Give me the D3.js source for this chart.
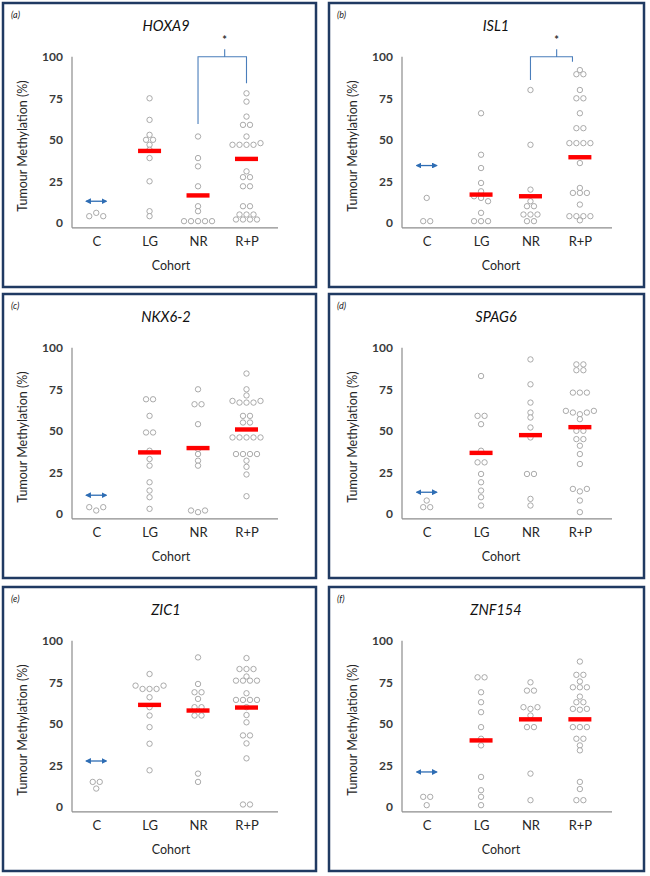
<!DOCTYPE html>
<html><head><meta charset="utf-8">
<script src="https://cdn.jsdelivr.net/npm/d3@7"></script>
<style>
html,body{margin:0;padding:0;background:#fff;}
svg{display:block;}
text{font-family:Lato,"Open Sans",sans-serif;}
</style></head>
<body>
<svg id="chart" width="650" height="876"></svg>
<script>
// ---------- DATA ----------
const panelLabels = ["(a)","(b)","(c)","(d)","(e)","(f)"];
const genes = ["HOXA9","ISL1","NKX6-2","SPAG6","ZIC1","ZNF154"];
const cohorts = ["C","LG","NR","R+P"];
const cohortX = [0.5, 1.6, 2.6, 3.6];
const yTicks = [0, 25, 50, 75, 100];

// methylation values per cohort [C, LG, NR, R+P]
const HOXA9 = [
  [4, 6, 4],
  [75, 62, 53, 50, 50, 47, 44, 39, 25, 7, 4],
  [52, 39, 34, 22, 10, 7, 1, 1, 1, 1, 1],
  [78, 73, 64, 59, 59, 52, 47, 47, 47, 47, 48, 31, 27.5, 27.5, 22, 22, 10, 10, 5, 5, 5, 2, 2, 2, 2]
];
const ISL1 = [
  [15, 1, 1],
  [66, 41, 33, 24, 19, 16, 15, 13, 6, 1, 1, 1],
  [80, 47, 20, 13, 10, 10, 5, 5, 5, 1, 1],
  [92, 89.5, 89.5, 80, 75, 75, 66, 57, 57, 48, 48, 48, 48, 36, 21, 18, 18, 18, 11, 4, 4, 4, 4, 1.5]
];
const NKX6_2 = [
  [4, 2, 4],
  [69, 69, 59, 49, 49, 38, 33, 29, 19, 14, 10, 3],
  [75, 66, 66, 54, 39, 36, 32, 29, 2, 1, 2],
  [84.5, 75, 71.3, 68, 67, 67, 67, 68, 59, 59, 55, 55, 46, 46, 46, 46, 46, 36, 36, 36, 36, 32, 28.3, 23.7, 10.6]
];
const SPAG6 = [
  [4, 8, 4],
  [83, 59, 59, 54, 38, 31, 31, 24, 19, 14, 10, 5],
  [93, 78, 67, 61, 58, 52, 46, 24, 24, 9, 5],
  [90, 90, 86.5, 86.5, 73, 73, 73, 62, 61, 60, 61, 62, 57, 50, 50, 45, 45, 41, 36, 30, 15, 13.5, 15, 8, 1]
];
const ZIC1 = [
  [15, 11, 15],
  [80, 73, 71, 71, 71, 73, 66, 60, 55, 48, 38, 22],
  [90, 74, 69, 69, 65, 60, 60, 55, 55, 20, 15],
  [89.6, 83, 83, 83, 78.5, 76, 76, 76, 76, 68.4, 64.4, 64.4, 64.4, 64.4, 60, 55.3, 50.9, 43, 43, 38.2, 29.2, 1.4, 1.4]
];
const ZNF154 = [
  [6, 1, 6],
  [78, 78, 69, 63, 57, 48, 41, 37, 18, 10, 6, 1],
  [75, 70, 70, 60, 59, 60, 55, 48, 48, 20, 4],
  [87.5, 79.5, 79.5, 75.5, 72, 72, 72, 66.4, 63, 63, 59, 58.5, 59, 48, 48, 48, 41, 41, 37, 34, 15, 10.7, 4, 4]
];
const panelData = [HOXA9, ISL1, NKX6_2, SPAG6, ZIC1, ZNF154];

// red bars (LG, NR, R+P)
const meanBars = [
  [43.3, 16.5, 38.5],
  [17, 16, 39.5],
  [37, 39.6, 50.8],
  [36.7, 47.4, 52.2],
  [61.4, 58, 59.8],
  [40, 52.7, 52.7]
];
// blue double arrow level at C
const arrowLevels = [13, 34.5, 11.2, 13, 27.6, 21];
// significance brackets
const bracketPanel = [0, 1];
const bracketLeftX = [2.6, 2.6];
const bracketRightX = [3.6, 3.45];
const bracketMidX = [3.15, 3.13];
const bracketLeftLow = [59.5, 86];
const bracketRightLow = [84, 97];

// ---------- LAYOUT ----------
const svg = d3.select("#chart");
const colLeft = [3, 329], colWidth = [313, 315];
const rowTop = [3, 294, 587], panelH = 284;
const axisX0 = [69, 73], axisX1 = [275, 283];
const spacing = 7, dotR = 2.7;

const defs = svg.append("defs");
defs.append("marker").attr("id","ah").attr("viewBox","0 0 10 10")
  .attr("refX",8).attr("refY",5).attr("markerWidth",4.5).attr("markerHeight",4.5)
  .attr("orient","auto-start-reverse")
  .append("path").attr("d","M0,0L10,5L0,10z").attr("fill","#2e6db4");

function layoutRows(vals) {
  const idx = vals.map((v,i)=>i).sort((a,b)=>vals[a]-vals[b] || a-b);
  const rows = [];
  let cur = [];
  idx.forEach(i=>{
    if (cur.length && vals[i] - vals[cur[cur.length-1]] > 2.1) { rows.push(cur); cur = []; }
    cur.push(i);
  });
  if (cur.length) rows.push(cur);
  const off = new Array(vals.length).fill(0);
  rows.forEach(r=>{
    r.sort((a,b)=>a-b);
    r.forEach((i,j)=>{ off[i] = (j - (r.length-1)/2); });
  });
  return off;
}

panelData.forEach((data, p) => {
  const col = p % 2, row = Math.floor(p / 2);
  const L = colLeft[col], T = rowTop[row];
  const g = svg.append("g");
  const x = d3.scaleLinear().domain([0, 4.25]).range([L + axisX0[col], L + axisX1[col]]);
  const y = d3.scaleLinear().domain([-3, 100]).range([T + 224.8, T + 53.8]);

  g.append("rect").attr("x", L).attr("y", T).attr("width", colWidth[col]).attr("height", panelH)
    .attr("fill","none").attr("stroke","#203a62").attr("stroke-width",2.5);

  g.append("text").attr("x", L + 8).attr("y", T + 15).attr("font-size", 9).attr("font-style","italic")
    .attr("fill","#222").text(panelLabels[p]);
  g.append("text").attr("x", x.range()[0] + 94).attr("y", T + 28).attr("text-anchor","middle")
    .attr("font-size", 14.5).attr("font-style","italic").attr("fill","#111").text(genes[p]);

  const yAxis = d3.axisLeft(y).tickValues(yTicks).tickSize(0).tickPadding(9);
  const ya = g.append("g").attr("transform",`translate(${x.range()[0]},0)`).call(yAxis);
  ya.select(".domain").attr("d", `M0,${y(-3)}V${y(100)}`).attr("stroke","#8c8c8c").attr("stroke-width",1.2);
  ya.selectAll("text").attr("font-size", 12).attr("font-weight","bold").attr("fill","#3a3a3a")
    .attr("font-family","Lato, sans-serif");

  const xa = g.append("g").attr("transform",`translate(0,${y(-3)})`)
    .call(d3.axisBottom(x).tickValues(cohortX).tickFormat((d,i)=>cohorts[i]).tickSize(0).tickPadding(9));
  xa.select(".domain").attr("d", `M${x.range()[0]},0H${x.range()[1]}`).attr("stroke","#8c8c8c").attr("stroke-width",1.2);
  xa.selectAll("text").attr("font-size", 13).attr("fill","#262626").attr("font-family","Lato, sans-serif");

  g.append("text").attr("x", x.range()[0] + 99).attr("y", T + 267).attr("text-anchor","middle")
    .attr("font-size", 12.5).attr("fill","#262626").text("Cohort");
  g.append("text").attr("transform",`translate(${x.range()[0] - 50},${T + 143}) rotate(-90)`)
    .attr("text-anchor","middle").attr("dominant-baseline","central")
    .attr("font-size", 12.5).attr("fill","#262626").text("Tumour Methylation (%)");

  data.forEach((vals, c) => {
    const off = layoutRows(vals);
    g.append("g").selectAll("circle").data(vals).join("circle")
      .attr("cx", (d,i) => x(cohortX[c]) + off[i] * spacing)
      .attr("cy", d => y(d))
      .attr("r", dotR)
      .attr("fill","#fff").attr("stroke","#a0a0a0").attr("stroke-width",0.9);
  });

  g.append("g").selectAll("rect").data(meanBars[p]).join("rect")
    .attr("x", (d,i) => x(cohortX[i+1]) - 11.5)
    .attr("y", d => y(d) - 2.2)
    .attr("width", 23).attr("height", 4.4)
    .attr("fill","#ff0000");

  const ax = x(cohortX[0]);
  g.append("line").attr("x1", ax - 10).attr("x2", ax + 10)
    .attr("y1", y(arrowLevels[p])).attr("y2", y(arrowLevels[p]))
    .attr("stroke","#2e6db4").attr("stroke-width",1.3)
    .attr("marker-start","url(#ah)").attr("marker-end","url(#ah)");

  const b = bracketPanel.indexOf(p);
  if (b >= 0) {
    const xl = x(bracketLeftX[b]), xr = x(bracketRightX[b]), xm = x(bracketMidX[b]);
    const yt = y(100);
    g.append("path")
      .attr("d", `M${xl},${y(bracketLeftLow[b])}V${yt}H${xr}V${y(bracketRightLow[b])}M${xm},${yt}V${y(104.5)}`)
      .attr("fill","none").attr("stroke","#4a7ebb").attr("stroke-width",1.1);
    g.append("text").attr("x", xm).attr("y", y(107.5)).attr("text-anchor","middle")
      .attr("font-size", 11).attr("font-weight","bold").attr("fill","#333").text("*");
  }
});
</script>
</body></html>
